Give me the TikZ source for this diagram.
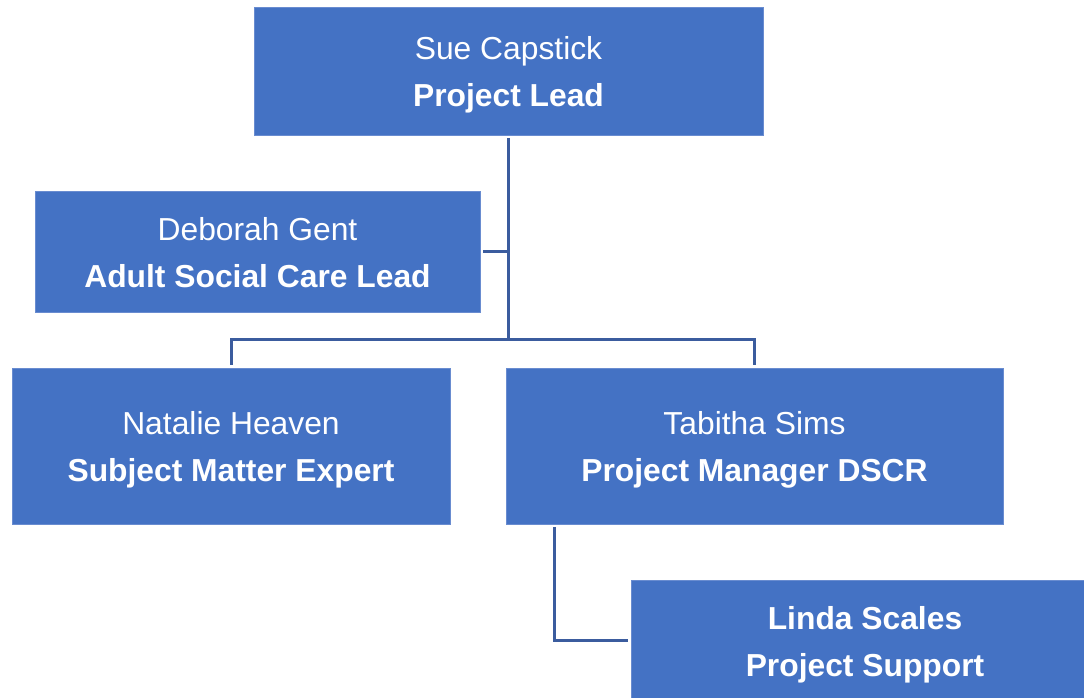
\documentclass[tikz,border=0pt]{standalone}
\usepackage{fontspec}
\setmainfont{Liberation Sans}
\definecolor{boxblue}{RGB}{68,114,196}
\definecolor{boxedge}{RGB}{105,140,208}
\definecolor{linkblue}{RGB}{59,92,158}
\newcommand{\toplift}{\rule{0pt}{1.0em}}
\newcommand{\botlift}{\rule[-0.22em]{0pt}{0.22em}}
\begin{document}
\begin{tikzpicture}[x=1pt,y=1pt,
  orgbox/.style={fill=boxblue, draw=boxedge, line width=0.8pt, text=white, align=center, inner sep=0pt, outer sep=3pt,
    font=\fontsize{31.8}{47}\selectfont},
  link/.style={draw=linkblue, line width=3pt}]
\useasboundingbox (0,0) rectangle (1084,698);
\clip (0,0) rectangle (1084,698);
\node[orgbox, minimum width=509, minimum height=128] (sue) at (508.5,627) {\toplift Sue Capstick\\\textbf{Project Lead}\botlift};
\node[orgbox, minimum width=445, minimum height=121] (deb) at (257.5,446.5) {\toplift Deborah Gent\\\textbf{Adult Social Care Lead}\botlift};
\node[orgbox, minimum width=438, minimum height=156] (nat) at (231,252) {\toplift Natalie Heaven\\\textbf{Subject Matter Expert}\botlift};
\node[orgbox, minimum width=497, minimum height=156] (tab) at (754.5,252) {\toplift Tabitha Sims\\\textbf{Project Manager DSCR}\botlift};
\node[orgbox, minimum width=468, minimum height=121] (lin) at (865,57.5) {\toplift\textbf{Linda Scales}\\\textbf{Project Support}\botlift};
\coordinate (bus) at (508.5,358);
\draw[link] (sue.south) -- (bus);
\draw[link] (deb.east) -- (deb.east -| sue.south);
\draw[link] (nat.north) |- (bus) -| (tab.north);
\draw[link] ([xshift=51pt]tab.south west) |- (lin.west);
\end{tikzpicture}
\end{document}
